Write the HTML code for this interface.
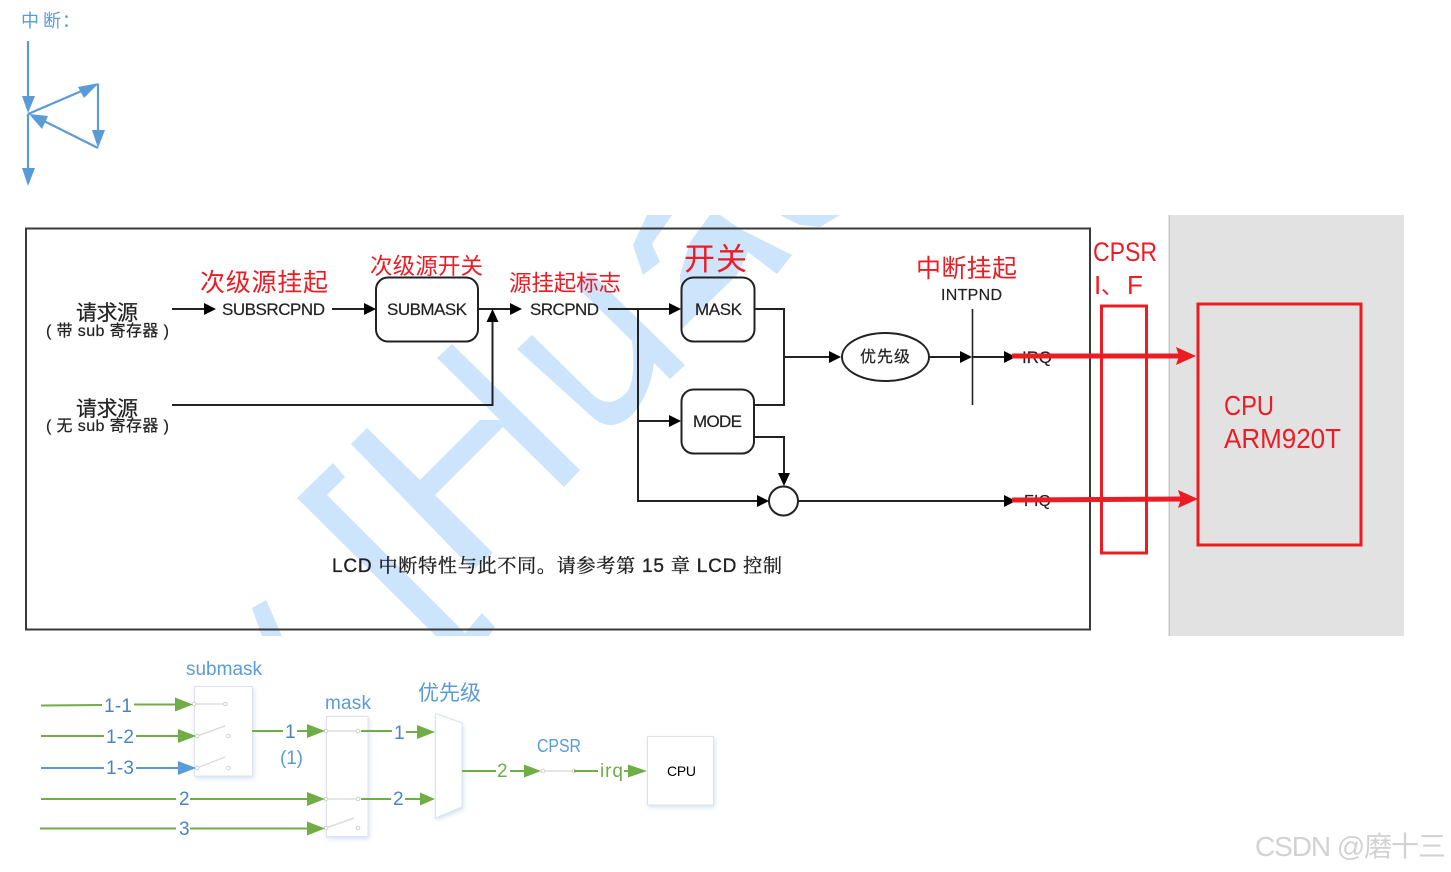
<!DOCTYPE html>
<html><head><meta charset="utf-8">
<style>
html,body{margin:0;padding:0;background:#fff;width:1451px;height:872px;overflow:hidden}
svg{display:block}
text{font-family:"Liberation Sans","Noto Sans CJK SC",sans-serif}
.k{fill:#222;stroke:#222;stroke-width:.2}
.r{fill:#ec1c24}
.b{fill:#5b9bd5}
.d{fill:#4a84c0}
.g{fill:#70ad47}
</style></head><body>
<svg width="1451" height="872" viewBox="0 0 1451 872" xmlns="http://www.w3.org/2000/svg">
<defs>
<clipPath id="wm"><rect x="0" y="215" width="1169" height="421"/></clipPath>
<filter id="sh" x="-20%" y="-20%" width="140%" height="140%"><feDropShadow dx="1" dy="2" stdDeviation="2" flood-color="#a9c6e6" flood-opacity=".5"/></filter>
</defs>

<!-- top-left -->
<text x="21" y="27" font-size="18" class="b">中</text>
<text x="43" y="27" font-size="18" class="b">断</text>
<text x="62" y="27" font-size="18" class="b">：</text>
<g stroke="#5b9bd5" stroke-width="2.2" fill="none">
<path d="M28 41V100M28 114V172M28 114L84 90M98 84V134M98 148L44 121"/>
</g>
<g fill="#5b9bd5">
<path d="M22 96H35L28 113Z"/><path d="M22 168H35L28 186Z"/>
<path d="M99 83L84 98L78 87Z"/><path d="M92 130H105L98 148Z"/>
<path d="M29 114L48 116L42 129Z"/>
</g>

<!-- grey panel -->
<rect x="1169" y="215" width="235" height="421" fill="#e2e2e2"/>
<rect x="1168.5" y="215" width="1.5" height="421" fill="#c8c8c8"/>

<!-- watermark -->
<g clip-path="url(#wm)" fill="#cce4fc">
<path d="M333 463L345 477L327 495L465 633L482 613L495 627L486 640H440L297 498Z"/>
<path d="M367 428L420 480L480 420H500L437 358L452 344L580 470L564 487L503 427L435 495L493 553L473 570L351 444Z"/>
<path d="M532 335L593 395Q610 410 627 392Q636 380 632 341L576 286L590 272L685 365L670 379L654 363Q650 395 632 415Q610 435 590 415L517 349Z"/>
<path d="M643 275L660 262L652 244L672 215H647L633 245Z"/>
<path d="M710 215L690 242L680 275L682 329L707 304L737 275L748 252L777 274L792 255L740 229L720 215Z"/>
<path d="M780 215H840L820 227L800 225Z"/>
<path d="M252 608L266 600L282 636H262Z"/>
</g>

<!-- main frame -->
<rect x="26" y="228.5" width="1064" height="401" fill="none" stroke="#3a3a3a" stroke-width="2"/>

<!-- black connectors -->
<g fill="none" stroke="#222" stroke-width="2">
<path d="M172 309H206M332 309H366M478 309H512M172 405H492.5V322M608 309H671M638 309V501H759M638 421H671M755 309H784V405H754M784 357H831M754 437H784V475M929 357H962M973 357H1006M798 501H1006"/>
<rect x="376" y="277.5" width="102" height="64" rx="12"/>
<rect x="681.5" y="277.5" width="73" height="64" rx="12"/>
<rect x="681.5" y="389.5" width="72.5" height="64" rx="12"/>
<ellipse cx="885.5" cy="357" rx="43.5" ry="24"/>
<circle cx="783.5" cy="501" r="14.5"/>
</g>
<path d="M972.5 309V405" stroke="#222" stroke-width="1.6"/>
<g fill="#000">
<path d="M204 303V315L216 309Z"/><path d="M364 303V315L376 309Z"/>
<path d="M510 303V315L522 309Z"/><path d="M486.5 322H498.5L492.5 309Z"/>
<path d="M669 303V315L681 309Z"/><path d="M669 415V427L681 421Z"/>
<path d="M757 495V507L769 501Z"/><path d="M778 473H790L784 486Z"/>
<path d="M829 351V363L841 357Z"/><path d="M960 351V363L972 357Z"/>
<path d="M1004 351V363L1016 357Z"/><path d="M1004 495V507L1016 501Z"/>
</g>

<!-- black labels -->
<text x="76" y="320" font-size="21" class="k" textLength="62">请求源</text>
<text x="46" y="336" font-size="16" class="k" textLength="123">( 带 sub 寄存器 )</text>
<text x="76" y="416" font-size="21" class="k" textLength="62">请求源</text>
<text x="46" y="431" font-size="16" class="k" textLength="123">( 无 sub 寄存器 )</text>
<text x="222" y="315" font-size="17" class="k" textLength="103">SUBSRCPND</text>
<text x="387" y="315" font-size="17" class="k" textLength="80">SUBMASK</text>
<text x="530" y="315" font-size="17" class="k" textLength="69">SRCPND</text>
<text x="695" y="315" font-size="17" class="k" textLength="47">MASK</text>
<text x="693" y="427" font-size="17" class="k" textLength="49">MODE</text>
<text x="860" y="362" font-size="16" class="k" textLength="50">优先级</text>
<text x="941" y="300" font-size="16" class="k" textLength="61">INTPND</text>
<text x="1022" y="363" font-size="17" class="k" textLength="30">IRQ</text>
<text x="1024" y="506" font-size="16" class="k" textLength="27">FIQ</text>
<text x="332" y="572" font-size="19" class="k" textLength="450" style="font-family:'Liberation Sans','Noto Serif CJK SC',serif;stroke-width:.35">LCD 中断特性与此不同。请参考第 15 章 LCD 控制</text>

<!-- red labels -->
<text x="200" y="291" font-size="25" class="r" textLength="128">次级源挂起</text>
<text x="370" y="274" font-size="22.5" class="r" textLength="113">次级源开关</text>
<text x="509" y="291" font-size="22.5" class="r" textLength="112">源挂起标志</text>
<text x="684" y="270" font-size="31" class="r" textLength="63">开关</text>
<text x="916" y="277" font-size="25" class="r" textLength="101">中断挂起</text>
<text x="1093" y="261" font-size="27" class="r" textLength="64" lengthAdjust="spacingAndGlyphs">CPSR</text>
<text x="1094" y="294" font-size="26" class="r">I</text>
<text x="1101" y="294" font-size="22" class="r">、</text>
<text x="1127" y="294" font-size="26" class="r">F</text>
<text x="1224" y="415" font-size="28" class="r" textLength="50" lengthAdjust="spacingAndGlyphs">CPU</text>
<text x="1224" y="448" font-size="28" class="r" textLength="117" lengthAdjust="spacingAndGlyphs">ARM920T</text>

<!-- red shapes -->
<g fill="none" stroke="#ec1c24">
<rect x="1101.5" y="306" width="45" height="247" stroke-width="3"/>
<rect x="1198" y="304" width="163" height="241" stroke-width="3"/>
<path d="M1012 356H1180M1012 500L1182 499" stroke-width="5"/>
</g>
<g fill="#ec1c24">
<path d="M1176 347L1196 356L1176 365L1179 356Z"/>
<path d="M1178 490L1198 499L1178 508L1181 499Z"/>
</g>

<!-- lower diagram: boxes -->
<g fill="#fff" stroke="#dfe3e8" stroke-width="1" filter="url(#sh)">
<rect x="194.5" y="686.5" width="58" height="89.5"/>
<rect x="326.5" y="716.5" width="41.5" height="120"/>
<path d="M435.5 713.5L462 723V807L435.5 818Z"/>
<rect x="647.5" y="736.5" width="66" height="68.5"/>
</g>
<!-- switches -->
<g stroke="#d0d0d0" stroke-width="1" fill="#fff">
<path d="M194 704H225M197 736L225 726M197 768L225 757M326 731H358M326 799H358M326 828L354 818M543 771H574" stroke="#d8d8d8" stroke-width="1.2"/>
<circle cx="194" cy="704" r="1.8"/><circle cx="225.5" cy="704" r="1.8"/>
<circle cx="197" cy="736" r="1.8"/><circle cx="228.5" cy="736" r="1.8"/>
<circle cx="197" cy="768" r="1.8"/><circle cx="228.5" cy="768" r="1.8"/>
<circle cx="326" cy="731" r="1.8"/><circle cx="358" cy="731" r="1.8"/>
<circle cx="326" cy="799" r="1.8"/><circle cx="358" cy="799" r="1.8"/>
<circle cx="326" cy="828" r="1.8"/><circle cx="358" cy="828" r="1.8"/>
<circle cx="543" cy="771" r="1.8"/><circle cx="574" cy="771" r="1.8"/>
</g>
<!-- lower diagram: lines -->
<g fill="none" stroke="#70ad47" stroke-width="2">
<path d="M41 705.5L102 705M134 704.5H177M41 736H104M136 736H180M41 799H176M190 799H309M40 828.5H176M190 828.5H309M252 731H283M297 731H309M361 731H392M406 732H419M361 799H391M405 799H422M462 771H496M510 771H526M574 771H598M624 771H630"/>
</g>
<path d="M41 768H104M136 768H180" fill="none" stroke="#5b9bd5" stroke-width="2"/>
<g fill="#70ad47">
<path d="M175 697.5V711.5L193 704.5Z"/><path d="M178 729V743L196 736Z"/>
<path d="M307 724V738L325 731Z"/><path d="M307 792V806L325 799Z"/>
<path d="M307 821.5V835.5L325 828.5Z"/><path d="M417 725V739L435 732Z"/>
<path d="M420 792.5V805.5L435 799Z"/><path d="M524 764.5V777.5L541 771Z"/>
<path d="M628 764.5V777.5L647 771Z"/>
</g>
<path d="M178 761V775L196 768Z" fill="#5b9bd5"/>

<!-- lower diagram: labels -->
<text x="186" y="675" font-size="19" class="b" textLength="76">submask</text>
<text x="325" y="709" font-size="19" class="b" textLength="46">mask</text>
<text x="418" y="700" font-size="21" class="b" textLength="63">优先级</text>
<text x="537" y="752" font-size="18" class="b" textLength="44" lengthAdjust="spacingAndGlyphs">CPSR</text>
<text x="104" y="712" font-size="19" class="d" textLength="28">1-1</text>
<text x="106" y="743" font-size="19" class="d" textLength="28">1-2</text>
<text x="106" y="774" font-size="19" class="d" textLength="28">1-3</text>
<text x="179" y="805" font-size="19" class="d">2</text>
<text x="179" y="835" font-size="19" class="d">3</text>
<text x="285" y="738" font-size="19" class="d">1</text>
<text x="280" y="764" font-size="19" class="b" textLength="23">(1)</text>
<text x="394" y="739" font-size="19" class="d">1</text>
<text x="393" y="805" font-size="19" class="d">2</text>
<text x="497" y="777" font-size="19" class="g">2</text>
<text x="600" y="777" font-size="19" class="g" textLength="23">irq</text>
<text x="667" y="776" font-size="14" fill="#000" textLength="29">CPU</text>

<!-- csdn mark -->
<text x="1255" y="856" font-size="28" fill="#d2d2d2" textLength="191">CSDN @磨十三</text>
</svg>
</body></html>
